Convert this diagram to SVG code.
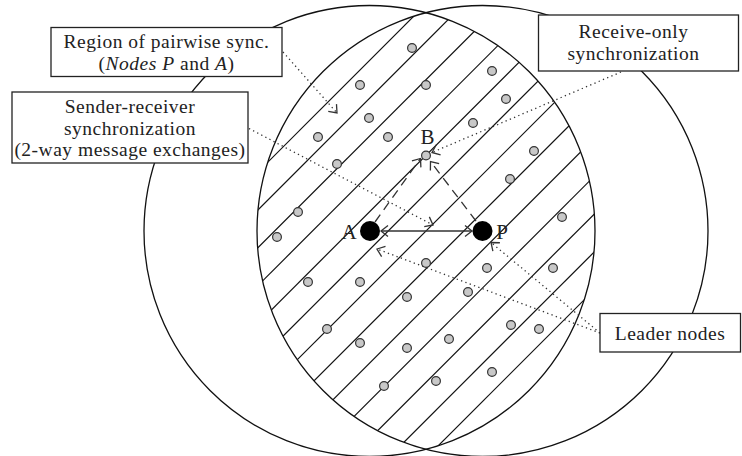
<svg xmlns="http://www.w3.org/2000/svg" width="742" height="456" viewBox="0 0 742 456">
<style>
.circ{fill:none;stroke:#111;stroke-width:1.3}
.hatch{stroke:#111;stroke-width:1.2}
.dot{fill:#c8c8c8;stroke:#333;stroke-width:1.2}
.lead{fill:#000}
.solid{fill:none;stroke:#333;stroke-width:1.3}
.dash{fill:none;stroke:#333;stroke-width:1.3;stroke-dasharray:9 6}
.dotted{fill:none;stroke:#333;stroke-width:1.3;stroke-dasharray:1.3 3.3}
.box{fill:#fff;stroke:#222;stroke-width:1.3}
text{font-family:"Liberation Serif","Times New Roman",serif;font-size:19.5px;letter-spacing:0.5px;fill:#222}
.n{font-size:21px;letter-spacing:0}
.c{text-anchor:middle}
.i{font-style:italic}
</style>
<defs>
<marker id="arr" markerUnits="userSpaceOnUse" markerWidth="20" markerHeight="20" viewBox="-10 -10 20 20" refX="0" refY="0" orient="auto-start-reverse">
<path d="M -7 -5.5 L 0 0 L -7 5.5" fill="none" stroke="#333" stroke-width="1.3" stroke-dasharray="none"/>
</marker>
<clipPath id="lens">
<path d="M 426 12.7 A 225.5 225.5 0 0 1 426 449.3 A 225.5 225.5 0 0 1 426 12.7 Z"/>
</clipPath>
</defs>

<g id="circles">
<circle class="circ" cx="369.5" cy="231" r="225.5"/>
<circle class="circ" cx="482.5" cy="231" r="225.5"/>
</g>

<g id="hatching" clip-path="url(#lens)">
<line class="hatch" x1="-30" y1="460" x2="430" y2="0"/>
<line class="hatch" x1="7.8" y1="460" x2="467.8" y2="0"/>
<line class="hatch" x1="45.7" y1="460" x2="505.7" y2="0"/>
<line class="hatch" x1="83.5" y1="460" x2="543.5" y2="0"/>
<line class="hatch" x1="121.3" y1="460" x2="581.3" y2="0"/>
<line class="hatch" x1="159.2" y1="460" x2="619.2" y2="0"/>
<line class="hatch" x1="197" y1="460" x2="657" y2="0"/>
<line class="hatch" x1="234.8" y1="460" x2="694.8" y2="0"/>
<line class="hatch" x1="272.7" y1="460" x2="732.7" y2="0"/>
<line class="hatch" x1="310.5" y1="460" x2="770.5" y2="0"/>
<line class="hatch" x1="348.3" y1="460" x2="808.3" y2="0"/>
<line class="hatch" x1="386.2" y1="460" x2="846.2" y2="0"/>
<line class="hatch" x1="424" y1="460" x2="884" y2="0"/>
</g>

<g id="sensor-nodes">
<circle class="dot" cx="412" cy="48" r="4.4"/>
<circle class="dot" cx="492" cy="71" r="4.4"/>
<circle class="dot" cx="360" cy="85" r="4.4"/>
<circle class="dot" cx="426" cy="85" r="4.4"/>
<circle class="dot" cx="506" cy="99" r="4.4"/>
<circle class="dot" cx="369" cy="118" r="4.4"/>
<circle class="dot" cx="473" cy="123" r="4.4"/>
<circle class="dot" cx="318" cy="137" r="4.4"/>
<circle class="dot" cx="388" cy="137" r="4.4"/>
<circle class="dot" cx="534" cy="151" r="4.4"/>
<circle class="dot" cx="337" cy="164" r="4.4"/>
<circle class="dot" cx="510" cy="179" r="4.4"/>
<circle class="dot" cx="298" cy="212" r="4.4"/>
<circle class="dot" cx="562" cy="217" r="4.4"/>
<circle class="dot" cx="277" cy="237" r="4.4"/>
<circle class="dot" cx="426" cy="263" r="4.4"/>
<circle class="dot" cx="487" cy="268" r="4.4"/>
<circle class="dot" cx="553" cy="268" r="4.4"/>
<circle class="dot" cx="308" cy="282" r="4.4"/>
<circle class="dot" cx="360" cy="282" r="4.4"/>
<circle class="dot" cx="407" cy="297" r="4.4"/>
<circle class="dot" cx="468" cy="292" r="4.4"/>
<circle class="dot" cx="327" cy="329" r="4.4"/>
<circle class="dot" cx="360" cy="343" r="4.4"/>
<circle class="dot" cx="407" cy="348" r="4.4"/>
<circle class="dot" cx="449" cy="339" r="4.4"/>
<circle class="dot" cx="511" cy="325" r="4.4"/>
<circle class="dot" cx="539" cy="329" r="4.4"/>
<circle class="dot" cx="492" cy="372" r="4.4"/>
<circle class="dot" cx="436" cy="381" r="4.4"/>
<circle class="dot" cx="384" cy="386" r="4.4"/>
</g>

<g id="connectors">
<line class="solid" x1="381" y1="231" x2="472" y2="231" marker-start="url(#arr)" marker-end="url(#arr)"/>
<line class="dash" x1="375" y1="222" x2="420.5" y2="158.5" marker-end="url(#arr)"/>
<line class="dash" x1="476" y1="221" x2="430.5" y2="161.5" marker-end="url(#arr)"/>
<line class="dotted" x1="283" y1="52" x2="337" y2="113" marker-end="url(#arr)"/>
<line class="dotted" x1="249" y1="128.5" x2="433" y2="225" marker-end="url(#arr)"/>
<line class="dotted" x1="621" y1="72" x2="432" y2="152.5" marker-end="url(#arr)"/>
<line class="dotted" x1="600" y1="333" x2="377" y2="249" marker-end="url(#arr)"/>
<line class="dotted" x1="600" y1="333" x2="491" y2="242.5" marker-end="url(#arr)"/>
</g>

<g id="node-A">
<circle class="lead" cx="370" cy="231" r="10"/>
<text x="349" y="238.5" class="c n">A</text>
</g>
<g id="node-P">
<circle class="lead" cx="482.5" cy="231" r="10"/>
<text x="502" y="238.5" class="c n">P</text>
</g>
<g id="node-B">
<circle class="dot" cx="426" cy="155.5" r="4.4"/>
<text x="427.5" y="144" class="c n">B</text>
</g>

<g id="label-pairwise">
<rect class="box" x="51" y="27.5" width="231" height="49"/>
<text x="166.5" y="48" class="c">Region of pairwise sync.</text>
<text x="166.5" y="69.7" class="c">(<tspan class="i">Nodes P</tspan> and <tspan class="i">A</tspan>)</text>
</g>
<g id="label-sender-receiver">
<rect class="box" x="12" y="92" width="236" height="71"/>
<text x="130" y="113" class="c">Sender-receiver</text>
<text x="130" y="134.7" class="c">synchronization</text>
<text x="130" y="156.4" class="c">(2-way message exchanges)</text>
</g>
<g id="label-receive-only">
<rect class="box" x="538.5" y="15" width="200" height="56"/>
<text x="633.5" y="38" class="c">Receive-only</text>
<text x="633.5" y="59.7" class="c">synchronization</text>
</g>
<g id="label-leader">
<rect class="box" x="600" y="313.5" width="140.5" height="38.5"/>
<text x="670" y="339.5" class="c">Leader nodes</text>
</g>
</svg>
